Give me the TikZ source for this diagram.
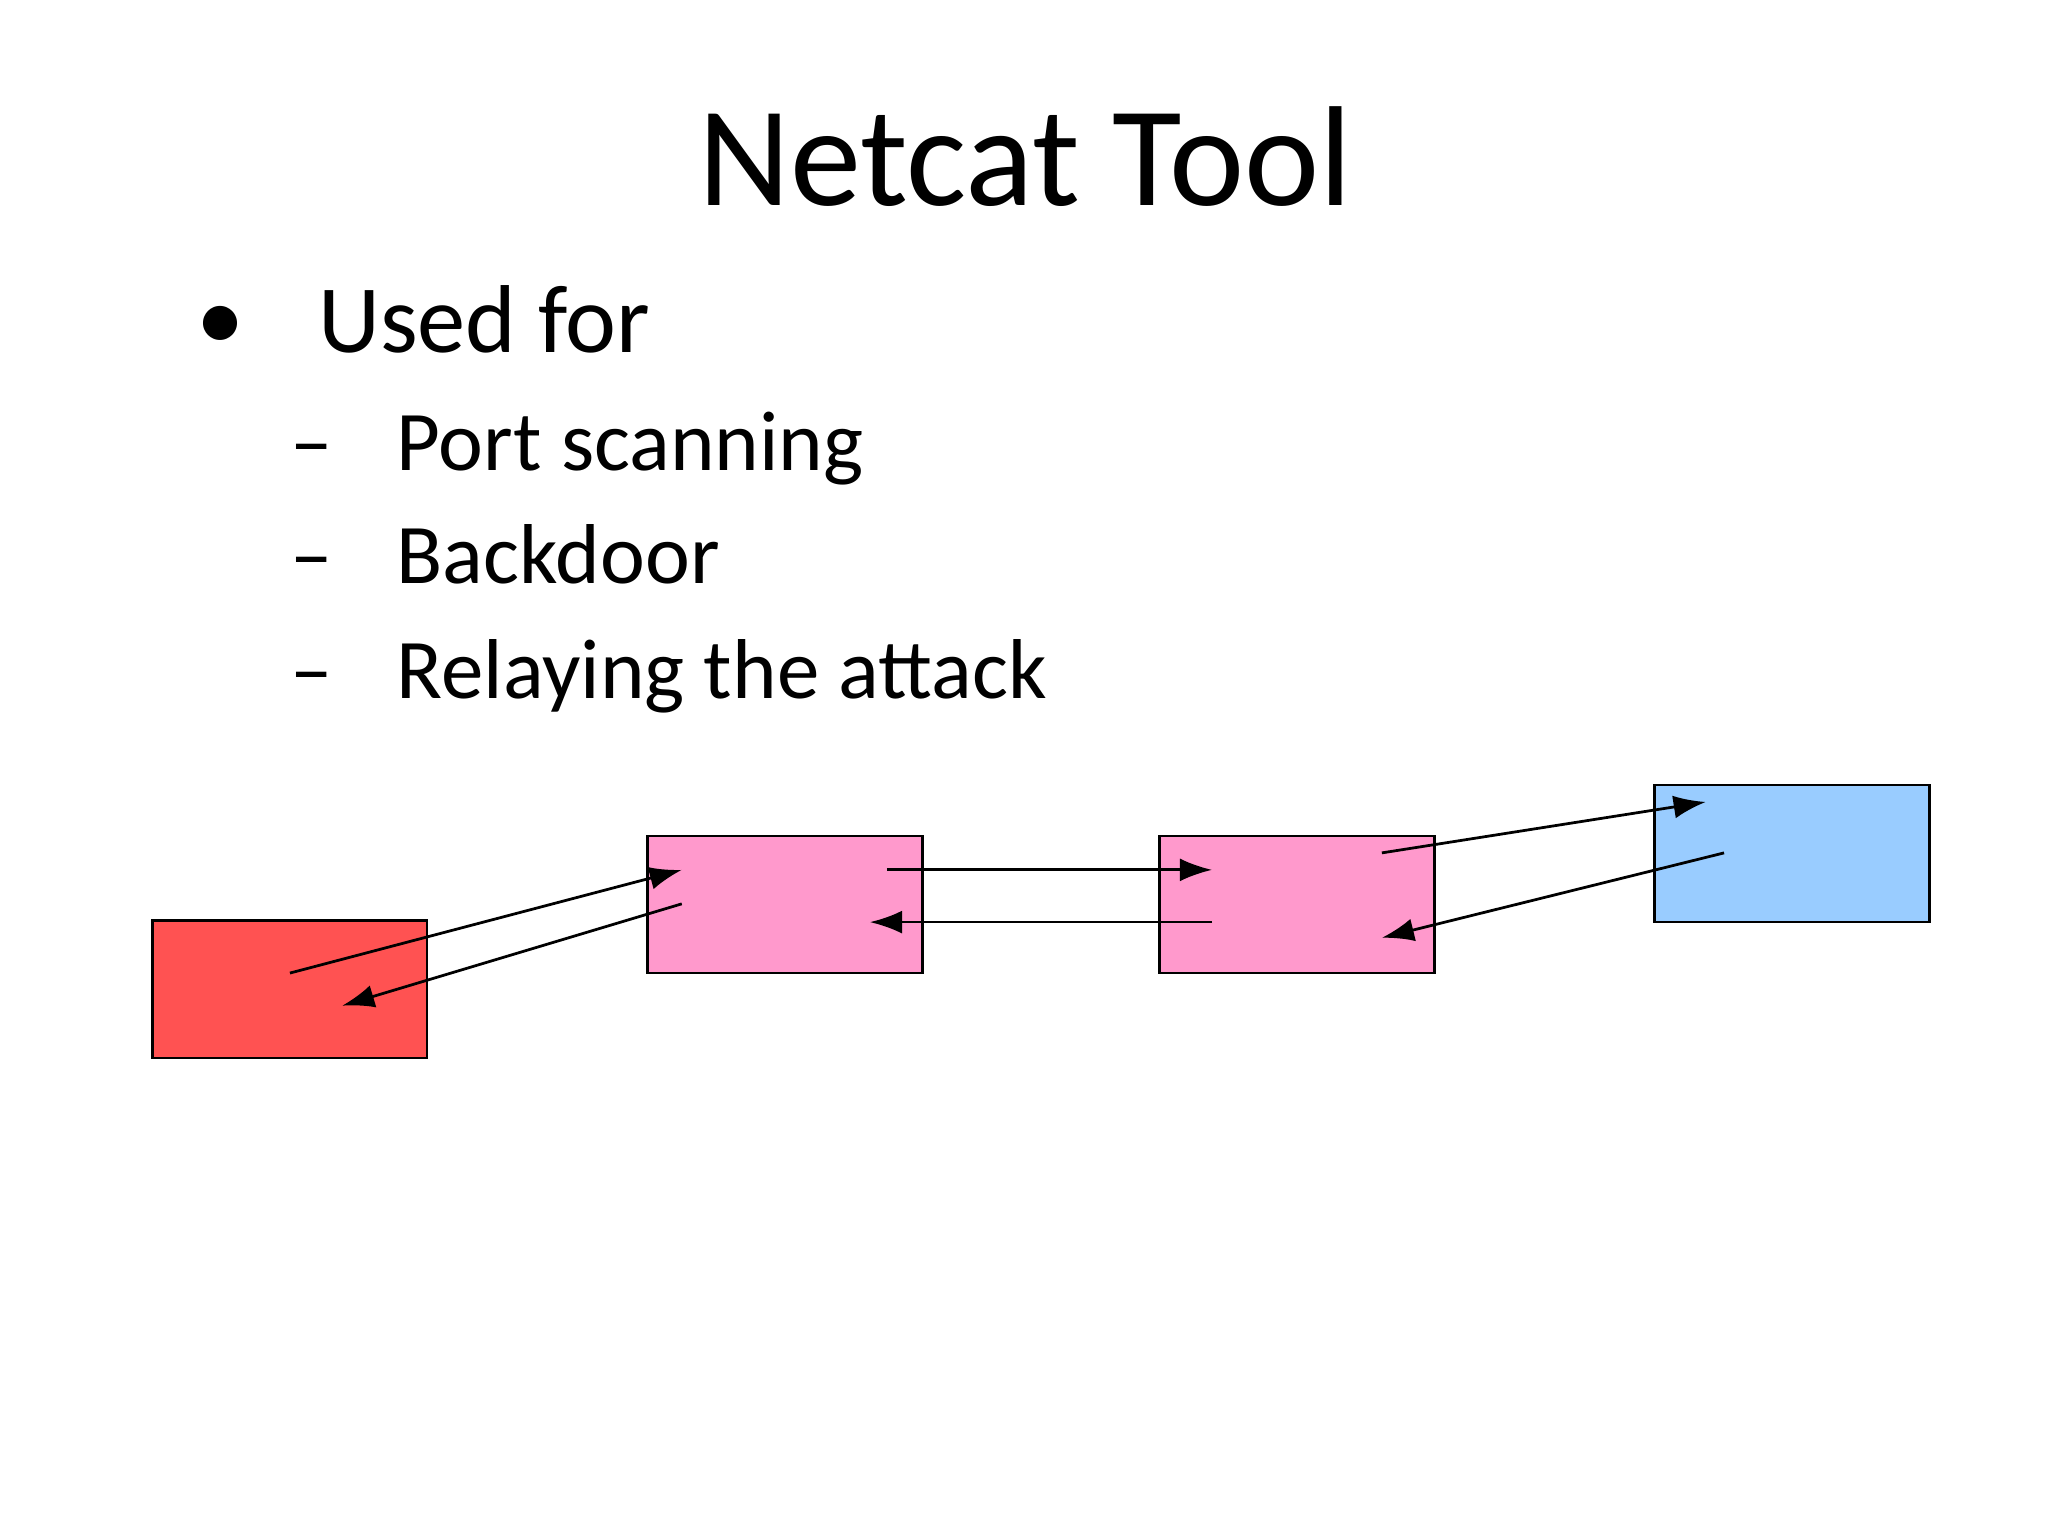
\documentclass[tikz,border=0pt]{standalone}
\usepackage{fontspec}
\setmainfont{Carlito}
\usetikzlibrary{arrows.meta}
\begin{document}
\begin{tikzpicture}[x=0.01cm,y=-0.01cm,
  box/.style={draw=black,line width=0.6pt},
  con/.style={-{Latex[length=7pt,width=5pt]},line width=0.6pt}]
\useasboundingbox (0,0) rectangle (1568,1176);
\node[anchor=base,font=\fontsize{31}{36}\selectfont] (title) at (785,157) {Netcat Tool};
\node[anchor=base west,inner sep=0,font=\fontsize{21}{25}\selectfont] (b0) at (150,268) {•};
\node[anchor=base west,inner sep=0,font=\fontsize{21}{25}\selectfont] (t0) at (243,270) {Used for};
\foreach \y/\t/\n in {360/Port scanning/1,447/Backdoor/2,535/Relaying the attack/3}{
  \node[anchor=base west,inner sep=0,font=\fontsize{18.5}{22}\selectfont] (d\n) at (222,\y) {–};
  \node[anchor=base west,inner sep=0,font=\fontsize{18.5}{22}\selectfont] (t\n) at (303,\y) {\t};
}
\draw[box,fill={rgb,255:red,255;green,82;blue,82}] (117,705) rectangle (327,810);
\draw[box,fill={rgb,255:red,255;green,153;blue,204}] (496,640) rectangle (706,745);
\draw[box,fill={rgb,255:red,255;green,153;blue,204}] (888,640) rectangle (1098,745);
\draw[box,fill={rgb,255:red,153;green,204;blue,255}] (1267,601) rectangle (1477,706);
\coordinate (a1) at (222,745); \coordinate (a2) at (522,666);
\coordinate (b1) at (522,692); \coordinate (b2) at (262,770);
\coordinate (c1) at (679,666); \coordinate (c2) at (928,666);
\coordinate (e1) at (928,706); \coordinate (e2) at (666,706);
\coordinate (f1) at (1058,653); \coordinate (f2) at (1306,614);
\coordinate (g1) at (1320,653); \coordinate (g2) at (1058,718);
\draw[con] (a1) -- (a2);
\draw[con] (b1) -- (b2);
\draw[con] (c1) -- (c2);
\draw[con] (e1) -- (e2);
\draw[con] (f1) -- (f2);
\draw[con] (g1) -- (g2);
\end{tikzpicture}
\end{document}
